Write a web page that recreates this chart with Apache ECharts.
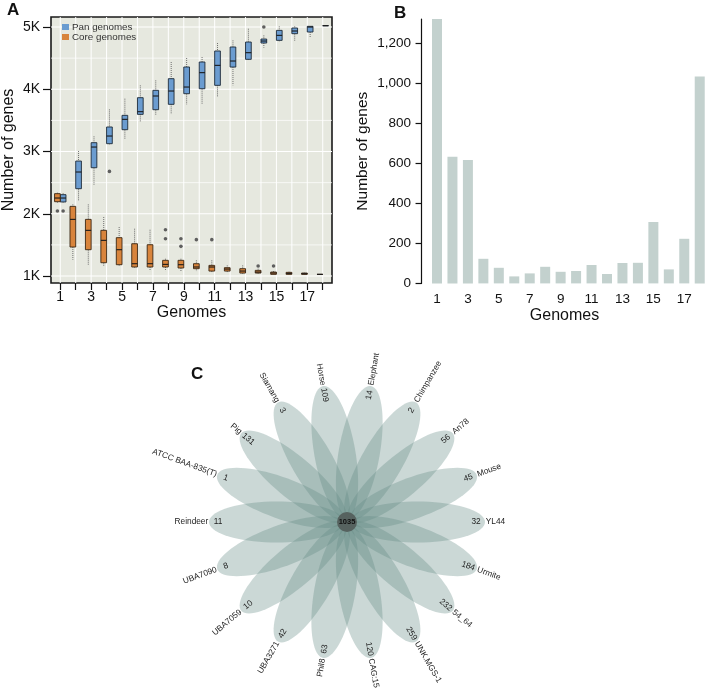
<!DOCTYPE html>
<html>
<head>
<meta charset="utf-8">
<script src="https://cdn.jsdelivr.net/npm/echarts@6/dist/echarts.min.js"></script>
<style>
html,body{margin:0;padding:0;background:#fff;}
#chart{width:709px;height:688px;}
</style>
</head>
<body>
<div id="chart"></div>
<script>
// ---------- Panel A data ----------
const genomes = [1,2,3,4,5,6,7,8,9,10,11,12,13,14,15,16,17,18];
// [min, Q1, median, Q3, max]
const panStats = [
  [2178,2190,2253,2307,2330],
  [2205,2403,2671,2847,3008],
  [2457,2740,3072,3142,3244],
  [3115,3126,3249,3394,3677],
  [3206,3351,3517,3581,3849],
  [3474,3597,3640,3865,4063],
  [3581,3672,3892,3983,4143],
  [3597,3758,3972,4170,4438],
  [3758,3929,4036,4358,4502],
  [3758,4009,4267,4438,4518],
  [3886,4063,4384,4615,4743],
  [4063,4357,4454,4679,4786],
  [4470,4481,4588,4759,4973],
  [4668,4743,4775,4807,4866],
  [4759,4786,4866,4946,5011],
  [4775,4893,4936,4984,5011],
  [4829,4920,5000,5011,5011],
  [5022,5022,5022,5022,5022]
];
const coreStats = [
  [2178,2194,2253,2323,2339],
  [1262,1466,1910,2119,2151],
  [1182,1423,1734,1910,2151],
  [1161,1214,1573,1734,1948],
  [1161,1182,1423,1616,1787],
  [1134,1145,1198,1519,1760],
  [1080,1145,1198,1503,1744],
  [1080,1145,1187,1252,1278],
  [1080,1129,1182,1252,1278],
  [1080,1118,1145,1198,1252],
  [1064,1080,1145,1171,1252],
  [1048,1080,1112,1134,1171],
  [1037,1048,1080,1118,1171],
  [1037,1048,1064,1091,1118],
  [1027,1027,1048,1064,1080],
  [1021,1027,1043,1059,1070],
  [1021,1027,1037,1048,1053],
  [1027,1027,1027,1027,1027]
];
const panOutliers = [[1,2044],[4,2681],[14,5000]];
const coreOutliers = [[1,2044],[8,1744],[8,1600],[9,1600],[9,1477],[10,1584],[11,1584],[14,1161],[15,1161]];
const aYTicks = [1000,2000,3000,4000,5000];
const aYMinor = [1500,2500,3500,4500];
const aXLabels = [1,3,5,7,9,11,13,15,17];

// ---------- Panel B data ----------
const bCounts = [1322,633,617,123,78,35,50,83,58,62,92,47,102,103,307,70,223,1035];
const bYTicks = [0,200,400,600,800,1000,1200];

// ---------- Panel C data ----------
const flowerNames = ['Elephant','Horse','Siamang','Pig','ATCC BAA-835(T)','Reindeer','UBA7090','UBA7059','UBA3271','Phil8','CAG:154','UNK.MGS-1','54_64','Urmite','YL44','Mouse','An78','Chimpanzee'];
const flowerValues = [14,109,3,131,1,11,8,10,42,63,120,259,232,184,32,45,56,2];
const flowerCore = 1035;

const FONT = 'Liberation Sans, Arial, Helvetica, sans-serif';
const PAN_COLOR = '#6b9cd0';
const CORE_COLOR = '#d8843c';

const chart = echarts.init(document.getElementById('chart'), null, {renderer:'canvas'});

function boxRenderer(side, fill, stroke) {
  return function(params, api) {
    const g = api.value(0);
    const mn = api.value(1), q1 = api.value(2), md = api.value(3), q3 = api.value(4), mx = api.value(5);
    const w = api.size([1,0])[0] * 0.37;
    const c = api.coord([g, md]);
    const x0 = side > 0 ? c[0] : c[0] - w;
    const xc = x0 + w/2;
    const yMn = api.coord([g, mn])[1], yQ1 = api.coord([g, q1])[1], yQ3 = api.coord([g, q3])[1], yMx = api.coord([g, mx])[1];
    const wh = {stroke:'#6f6f6f', lineWidth:1, lineDash:[1,1]};
    return {
      type:'group',
      children:[
        {type:'line', shape:{x1:xc,y1:yMx,x2:xc,y2:yQ3}, style:wh},
        {type:'line', shape:{x1:xc,y1:yQ1,x2:xc,y2:yMn}, style:wh},
        {type:'rect', shape:{x:x0,y:yQ3,width:w,height:Math.max(0.1,yQ1-yQ3)}, style:{fill:fill, stroke:stroke, lineWidth:0.9}},
        {type:'line', shape:{x1:x0,y1:c[1],x2:x0+w,y2:c[1]}, style:{stroke:'#1a1a1a', lineWidth:1.1}}
      ]
    };
  };
}
function outlierRenderer(side) {
  return function(params, api) {
    const g = api.value(0);
    const c = api.coord([g, api.value(1)]);
    const w = api.size([1,0])[0] * 0.37;
    const xc = c[0] + side * w/2;
    return {type:'circle', shape:{cx:xc, cy:c[1], r:1.8}, style:{fill:'#5f5f5f'}};
  };
}

const gridLinesData = [];
genomes.forEach(g => gridLinesData.push(['v', g, 1]));
aYTicks.forEach(v => gridLinesData.push(['h', v, 1.1]));
aYMinor.forEach(v => gridLinesData.push(['h', v, 0.7]));

const option = {
  animation:false,
  backgroundColor:'#ffffff',
  textStyle:{fontFamily:FONT},
  graphic:[
    {type:'text', left:7, top:2, style:{text:'A', font:'bold 17px '+FONT, fill:'#111'}},
    {type:'text', left:394, top:5, style:{text:'B', font:'bold 17px '+FONT, fill:'#111'}},
    {type:'text', left:191, top:366, style:{text:'C', font:'bold 17px '+FONT, fill:'#111'}}
  ],
  legend:{
    left:57, top:17, orient:'vertical', itemWidth:7, itemHeight:6, itemGap:0,
    icon:'rect',
    textStyle:{fontSize:9.8, color:'#333', fontFamily:FONT, padding:[0,0,0,-2]},
    data:['Pan genomes','Core genomes']
  },
  grid:[
    {left:51, top:17, width:281, height:266, show:true, backgroundColor:'#e6e8df', borderColor:'#1a1a1a', borderWidth:1.6, z:0},
    {left:420, top:19, width:293, height:264.4},
    {left:197, top:372, width:300, height:300}
  ],
  xAxis:[
    {gridIndex:0, type:'value', min:0.4, max:18.6,
      name:'Genomes', nameLocation:'middle', nameGap:20,
      nameTextStyle:{fontSize:16, color:'#111', fontFamily:FONT},
      axisLine:{show:false},
      axisTick:{show:true, length:7, lineStyle:{color:'#111', width:1.2}, customValues:genomes},
      axisLabel:{fontSize:14, color:'#111', margin:7, customValues:aXLabels},
      splitLine:{show:false}
    },
    {gridIndex:1, type:'value', min:-0.1, max:18.6,
      name:'Genomes', nameLocation:'middle', nameGap:20,
      nameTextStyle:{fontSize:16, color:'#111', fontFamily:FONT},
      axisLine:{show:false}, axisTick:{show:false},
      axisLabel:{fontSize:13.5, color:'#111', margin:9, customValues:aXLabels},
      splitLine:{show:false}
    },
    {gridIndex:2, type:'value', min:-1, max:1, show:false}
  ],
  yAxis:[
    {gridIndex:0, type:'value', min:888, max:5161,
      name:'Number of genes', nameLocation:'middle', nameGap:34,
      nameTextStyle:{fontSize:16, color:'#111', fontFamily:FONT},
      axisLine:{show:false},
      axisTick:{show:true, length:8, lineStyle:{color:'#111', width:1.2}, customValues:aYTicks},
      axisLabel:{fontSize:14, color:'#111', margin:11, customValues:aYTicks, formatter:v => (v/1000)+'K'},
      splitLine:{show:false}
    },
    {gridIndex:1, type:'value', min:0, max:1322,
      name:'Number of genes', nameLocation:'middle', nameGap:49,
      nameTextStyle:{fontSize:15.5, color:'#111', fontFamily:FONT},
      axisLine:{show:true, lineStyle:{color:'#111', width:1.2}},
      axisTick:{show:true, length:6, lineStyle:{color:'#111', width:1.2}, customValues:bYTicks},
      axisLabel:{fontSize:13.5, color:'#111', margin:9, customValues:bYTicks, formatter:v => v.toLocaleString('en-US')},
      splitLine:{show:false}
    },
    {gridIndex:2, type:'value', min:-1, max:1, show:false}
  ],
  series:[
    {
      type:'custom', name:'grid lines', xAxisIndex:0, yAxisIndex:0, z:1, silent:true,
      data:gridLinesData.map(d => [d[0]==='v'?d[1]:1, d[0]==='h'?d[1]:1000, d[2], d[0]==='v'?1:0]),
      renderItem:function(params, api){
        const cs = params.coordSys;
        const isV = api.value(3) === 1;
        const p = api.coord([api.value(0), api.value(1)]);
        const lw = api.value(2);
        if (isV) return {type:'line', shape:{x1:p[0],y1:cs.y,x2:p[0],y2:cs.y+cs.height}, style:{stroke:'#ffffff', lineWidth:lw}};
        return {type:'line', shape:{x1:cs.x,y1:p[1],x2:cs.x+cs.width,y2:p[1]}, style:{stroke:'#ffffff', lineWidth:lw}};
      }
    },
    {
      type:'custom', name:'Pan genomes', xAxisIndex:0, yAxisIndex:0, z:3,
      itemStyle:{color:PAN_COLOR},
      data:genomes.map((g,i)=>[g].concat(panStats[i])),
      renderItem:boxRenderer(1, PAN_COLOR, '#1d2a38')
    },
    {
      type:'custom', name:'Core genomes', xAxisIndex:0, yAxisIndex:0, z:3,
      itemStyle:{color:CORE_COLOR},
      data:genomes.map((g,i)=>[g].concat(coreStats[i])),
      renderItem:boxRenderer(-1, CORE_COLOR, '#3a2612')
    },
    {
      type:'custom', name:'pan outliers', xAxisIndex:0, yAxisIndex:0, z:4, silent:true,
      data:panOutliers, renderItem:outlierRenderer(1)
    },
    {
      type:'custom', name:'core outliers', xAxisIndex:0, yAxisIndex:0, z:4, silent:true,
      data:coreOutliers, renderItem:outlierRenderer(-1)
    },
    {
      type:'bar', name:'unique', xAxisIndex:1, yAxisIndex:1, barWidth:10,
      itemStyle:{color:'#c3d1ce'},
      data:bCounts.map((v,i)=>[genomes[i], v])
    },
    {
      type:'custom', name:'flower', xAxisIndex:2, yAxisIndex:2, z:2, silent:true,
      data:flowerValues.map((v,i)=>[i, v]),
      renderItem:function(params, api){
        const i = api.value(0);
        const val = api.value(1);
        const ang = (80 + 20*i) * Math.PI/180;
        const ca = Math.cos(ang), sa = Math.sin(ang);
        const cx = 0.47, a = 0.45, b = 0.137;
        const pts = [];
        for (let k=0;k<72;k++){
          const t = k/72*2*Math.PI;
          const lx = cx + a*Math.cos(t), ly = b*Math.sin(t);
          pts.push(api.coord([lx*ca - ly*sa, lx*sa + ly*ca]));
        }
        const pNum = api.coord([0.86*ca, 0.86*sa]);
        const pName = api.coord([0.925*ca, 0.925*sa]);
        const deg = 80 + 20*i;
        const norm = ((deg % 360)+360)%360;
        const right = (norm < 90 || norm > 270);
        const rot = right ? ang : ang - Math.PI;
        return {
          type:'group',
          children:[
            {type:'polygon', shape:{points:pts}, style:{fill:'rgba(96,136,131,0.33)', stroke:null}},
            {type:'text', x:pNum[0], y:pNum[1], rotation:rot, z2:10,
              style:{text:String(val), font:'8.3px '+FONT, fill:'#222', align:'center', verticalAlign:'middle'}},
            {type:'text', x:pName[0], y:pName[1], rotation:rot, z2:10,
              style:{text:flowerNames[i], font:'8.3px '+FONT, fill:'#222', align:right?'left':'right', verticalAlign:'middle'}}
          ]
        };
      }
    },
    {
      type:'custom', name:'core', xAxisIndex:2, yAxisIndex:2, z:5, silent:true,
      data:[[0,0,flowerCore]],
      renderItem:function(params, api){
        const c = api.coord([api.value(0), api.value(1)]);
        return {type:'group', children:[
          {type:'circle', shape:{cx:c[0], cy:c[1], r:10}, style:{fill:'#56625f'}},
          {type:'text', x:c[0], y:c[1], z2:10, style:{text:String(api.value(2)), font:'bold 7.5px '+FONT, fill:'#111', align:'center', verticalAlign:'middle'}}
        ]};
      }
    }
  ]
};
chart.setOption(option);
</script>
</body>
</html>
